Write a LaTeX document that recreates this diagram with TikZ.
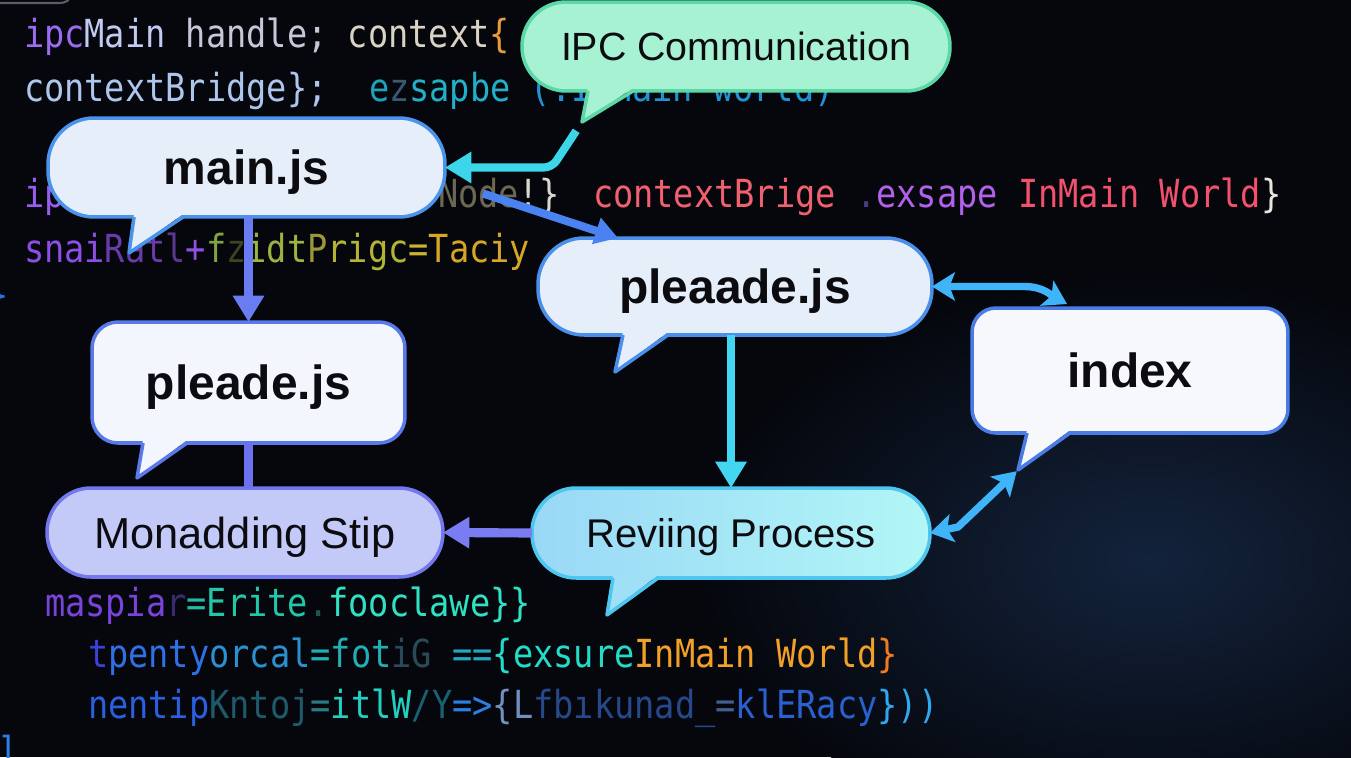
\documentclass[tikz,border=0pt]{standalone}
\usepackage{fontspec}
\usetikzlibrary{arrows.meta,calc}
\newfontfamily\codefont[FakeStretch=0.87]{DejaVu Sans Mono}
\newfontfamily\lblfont{Liberation Sans}
\definecolor{bgc}{HTML}{05070D}
\definecolor{glowc}{HTML}{13233C}
\definecolor{tlgray}{HTML}{5A5E66}
\definecolor{textk}{HTML}{0C0C10}
\definecolor{ipcF}{HTML}{A8F2D4}
\definecolor{ipcD}{HTML}{5CD8A8}
\definecolor{mainF}{HTML}{E6EFF9}
\definecolor{mainD}{HTML}{4A94EC}
\definecolor{plF}{HTML}{F3F6FC}
\definecolor{plD}{HTML}{5A7AEC}
\definecolor{mdF}{HTML}{C3CAF8}
\definecolor{mdD}{HTML}{7478EE}
\definecolor{prF}{HTML}{E6EFF9}
\definecolor{prD}{HTML}{4A90EA}
\definecolor{ixF}{HTML}{F6F8FC}
\definecolor{ixD}{HTML}{4A7CE8}
\definecolor{rvL}{HTML}{9AD8F6}
\definecolor{rvR}{HTML}{B2F6F6}
\definecolor{rvT}{HTML}{A0E0F6}
\definecolor{rvD}{HTML}{4EC6F0}
\definecolor{ipcA}{HTML}{3CD6EA}
\definecolor{mainprA}{HTML}{4A82F2}
\definecolor{mainplA}{HTML}{6A7CF2}
\definecolor{plmdA}{HTML}{6C72EE}
\definecolor{prrvA}{HTML}{42D6F0}
\definecolor{rvmdA}{HTML}{7A7CF2}
\definecolor{dblA}{HTML}{40B4F8}
\newcommand\kc[2]{\textcolor[HTML]{#1}{#2}}
% fill, draw, xl, xr, tipx, tipy, bottom y
\newcommand\bubtail[7]{%
  \fill[#1] (#3,#7-3) -- (#5,#6) -- (#4,#7-3) -- cycle;
  \draw[#2, line width=2pt, line join=round] (#3,#7) -- (#5,#6) -- (#4,#7);
}
\begin{document}
\begin{tikzpicture}[x=0.02cm,y=-0.02cm,
  codetxt/.style={anchor=base west,inner sep=0pt,outer sep=0pt,font=\codefont\fontsize{22}{26}\selectfont},
  bub/.style={line width=2pt,inner sep=0pt,outer sep=0pt,text depth=0pt,text=textk,font=\lblfont\fontsize{27.3}{30}\selectfont\bfseries},
  conn/.style={line width=4.6pt},
  tri/.style={-{Triangle[length=15pt,width=17pt]}},
  dbl/.style={{Stealth[length=13pt,width=16pt,inset=3pt]}-{Stealth[length=13pt,width=16pt,inset=3pt]}}
]
\useasboundingbox (0,0) rectangle (1351,757);
\fill[bgc] (0,0) rectangle (1351,757);
\shade[inner color=glowc, outer color=bgc] (1150,560) ellipse (9cm and 5.6cm);
\draw[tlgray, line width=1.2pt] (-5,3) -- (58,3) .. controls (66,3) and (70,1) .. (71,-6);

% code text
\node[codetxt] (l1) at (24,48) {\kc{9B6CF2}{ipc}\kc{C2CAF2}{Main}\ \kc{C6C8DA}{handle;}\ \kc{DAD2C2}{context}\kc{EA9A38}{\{}};
\node[codetxt] (l2a) at (24,101) {\kc{AEC6EC}{contextBridge\};}};
\node[codetxt] (l2b) at (369,101) {\kc{1CA2BC}{e}\kc{3A5870}{z}\kc{22B0C8}{sapbe}\ \kc{2492D2}{(.InMain world)}};
\node[codetxt] (l3a) at (24,207) {\kc{9A5CF0}{ip}};
\node[codetxt] (l3b) at (438,207) {\kc{6E6852}{Node}\kc{D8D8D0}{!\}}};
\node[codetxt] (l3c) at (593,207) {\kc{F0606E}{contextBrige}\ \kc{4A3A80}{.}\kc{B262EA}{exsape}\ \kc{F2506C}{InMain World}\kc{E8E4E0}{\}}};
\node[codetxt] (l4) at (24,262) {\kc{8C4EE6}{snai}\kc{6A3AA8}{Rat}\kc{5A3890}{l}\kc{9050E0}{+}\kc{82A440}{f}\kc{3C4420}{z}\kc{9AB442}{idt}\kc{9A9838}{P}\kc{B4B434}{rigc}\kc{CAB232}{=}\kc{D6A626}{Taciy}};
\node[codetxt] (l5) at (-11,308) {\kc{2A70E0}{\}}};
\node[codetxt] (l6) at (45,616) {\kc{7A44DC}{maspia}\kc{3A2A70}{r}\kc{28B8A8}{=}\kc{22C6A8}{Erite}\kc{1A5A50}{.}\kc{30E2C4}{fooclawe\}\}}};
\node[codetxt] (l7) at (88,667) {\kc{3A40D8}{t}\kc{3070E6}{penty}\kc{2A90D0}{orcal}\kc{20B0B4}{=fot}\kc{2A4A58}{iG}\ \kc{20A8C0}{==}\kc{22DCC8}{\{exsure}\kc{F2A028}{InMain World}\kc{F07A20}{\}}};
\node[codetxt] (l8) at (88,718) {\kc{2A60E0}{nentip}\kc{1E5A6A}{Kntoj}\kc{2A7A80}{=}\kc{22D0C0}{itlW}\kc{1A6070}{/Y}\kc{2A80E0}{=>}\kc{7090C0}{\{L}\kc{27488A}{fbıkunad\_}\kc{406090}{=}\kc{2A60D0}{klERacy}\kc{30A8F0}{\}))}};
\node[codetxt] (l9) at (-3,764) {\kc{2A80E8}{]}};

% bubbles
\node[bub, fill=ipcF, draw=ipcD, rounded corners=0.88cm, minimum width=8.56cm, minimum height=1.78cm,
  font=\lblfont\fontsize{22.4}{26}\selectfont] (ipc) at (736,46.5) {IPC Communication};
\bubtail{ipcF}{ipcD}{588}{633}{582}{122}{91}

\node[bub, fill=mainF, draw=mainD, rounded corners=0.92cm, minimum width=7.94cm, minimum height=1.98cm] (main) at (246.5,167.5) {main.js};
\bubtail{mainF}{mainD}{134}{183}{129}{253}{217}

\node[bub, fill=plF, draw=plD, rounded corners=0.52cm, minimum width=6.26cm, minimum height=2.42cm] (pl) at (248.5,382.5) {pleade.js};
\bubtail{plF}{plD}{143}{187}{137}{478}{443}

\node[bub, fill=mdF, draw=mdD, rounded corners=0.88cm, minimum width=7.92cm, minimum height=1.78cm,
  font=\lblfont\fontsize{24.7}{28}\selectfont] (md) at (245,532.5) {Monadding Stip};

\node[bub, fill=prF, draw=prD, rounded corners=0.92cm, minimum width=7.88cm, minimum height=1.94cm] (pr) at (735,286.5) {pleaade.js};
\bubtail{prF}{prD}{623}{668}{615}{372}{335}

\node[bub, fill=ixF, draw=ixD, rounded corners=0.48cm, minimum width=6.32cm, minimum height=2.5cm] (ix) at (1130,370.5) {index};
\bubtail{ixF}{ixD}{1027}{1070}{1018}{470}{433}

\node[bub, left color=rvL, right color=rvR, draw=rvD, rounded corners=0.88cm, minimum width=7.96cm, minimum height=1.8cm,
  font=\lblfont\fontsize{22.8}{27}\selectfont] (rv) at (731,533) {Reviing Process};
\bubtail{rvT}{rvD}{613}{658}{607}{615}{578}

% connectors
\coordinate (ipctip) at (582,122);
\coordinate (ixtip) at (1018,470);
\draw[conn, ipcA, tri, rounded corners=0.16cm, shorten <=6pt] (ipctip) -- ($(main.east)+(107,0)$) -- (main.east);
\draw[conn, mainprA, -{Triangle[length=13pt,width=15pt]}] ($(main.east)+(38,26)$) -- ($(pr.north west)+(80,0)$);
\draw[conn, mainplA, tri] (main.south -| pl.north) -- (pl.north);
\draw[conn, plmdA, line width=5.2pt] (pl.south) -- (pl.south |- md.north);
\draw[conn, prrvA, line width=5pt, tri] (rv.north |- pr.south) -- (rv.north);
\draw[conn, rvmdA, line width=5.2pt, tri] (rv.west) -- (md.east);
\draw[conn, dblA, line width=4.2pt, dbl] (pr.east) -- ($(pr.east)+(92,0)$) .. controls ($(pr.east)+(112,0)$) and ($(ix.north west)+(80,-12)$) .. ($(ix.north west)+(95,-4)$);
\draw[conn, dblA, line width=4.2pt, dbl, shorten >=1pt] (rv.east) -- ($(rv.east)+(28,-6)$) -- (ixtip);
\end{tikzpicture}
\end{document}
